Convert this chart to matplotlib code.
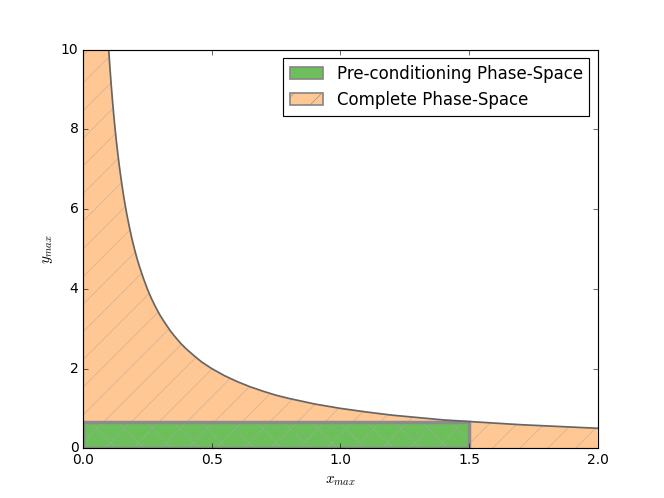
import matplotlib
matplotlib.use("Agg")
import matplotlib.pyplot as plt
from matplotlib.patches import Patch, Rectangle

plt.style.use('classic')
plt.rcParams['hatch.linewidth'] = 0.5

# boundary curve of the complete phase-space
curve_x = [0.0, 0.1, 0.105, 0.11, 0.115, 0.12, 0.125, 0.13, 0.135, 0.14, 0.145, 0.15, 0.155,
           0.16, 0.17, 0.18, 0.19, 0.2, 0.21, 0.22, 0.235, 0.25, 0.265, 0.28, 0.3, 0.32, 0.34,
           0.36, 0.38, 0.4, 0.43, 0.46, 0.5, 0.55, 0.6, 0.65, 0.7, 0.75, 0.8, 0.9, 1.0, 1.1,
           1.2, 1.3, 1.4, 1.5, 1.6, 1.7, 1.8, 1.9, 2.0]
curve_y = [10.0, 10.0, 9.52, 9.09, 8.70, 8.33, 8.0, 7.69, 7.41, 7.14, 6.90, 6.67, 6.45,
           6.25, 5.88, 5.56, 5.26, 5.0, 4.76, 4.55, 4.26, 4.0, 3.77, 3.57, 3.33, 3.13, 2.94,
           2.78, 2.63, 2.5, 2.33, 2.17, 2.0, 1.82, 1.67, 1.54, 1.43, 1.33, 1.25, 1.11, 1.0, 0.91,
           0.83, 0.77, 0.71, 0.67, 0.63, 0.59, 0.56, 0.53, 0.5]
line_x = curve_x[1:]
line_y = curve_y[1:]

# pre-conditioning box
box_x = [0.0, 1.5]
box_y = [0.0, 0.67]

labels = ["Pre-conditioning Phase-Space", "Complete Phase-Space"]
orange = '#ffc794'
green = '#6dbf5c'

fig = plt.figure(figsize=(8, 6), dpi=83)
ax = fig.add_axes([0.125, 0.1, 0.775, 0.8])

ax.fill_between(curve_x, 0, curve_y, facecolor=orange, edgecolor='#c8ad94',
                linewidth=0, hatch='/')
ax.plot(line_x, line_y, color='#666666', linewidth=1.5)

rect = Rectangle((box_x[0], box_y[0]), box_x[1] - box_x[0], box_y[1] - box_y[0],
                 facecolor=green, edgecolor='#8fb585', linewidth=0, hatch='x')
ax.add_patch(rect)
rect2 = Rectangle((box_x[0], box_y[0]), box_x[1] - box_x[0], box_y[1] - box_y[0],
                  facecolor='none', edgecolor='#8c8c8c', linewidth=3)
ax.add_patch(rect2)

ax.set_xlim(0, 2)
ax.set_ylim(0, 10)
ax.set_xticks([0.0, 0.5, 1.0, 1.5, 2.0])
ax.set_yticks([0, 2, 4, 6, 8, 10])
ax.set_xlabel(r'$x_{max}$', fontsize=13)
ax.set_ylabel(r'$y_{max}$', fontsize=13)

handles = [Patch(facecolor=green, edgecolor='#888888', linewidth=1.5),
           Patch(facecolor=orange, edgecolor='#888888', linewidth=1.5, hatch='/')]
ax.legend(handles, labels, loc='upper right', fontsize=14.4)

fig.savefig('out.png', dpi=83)
